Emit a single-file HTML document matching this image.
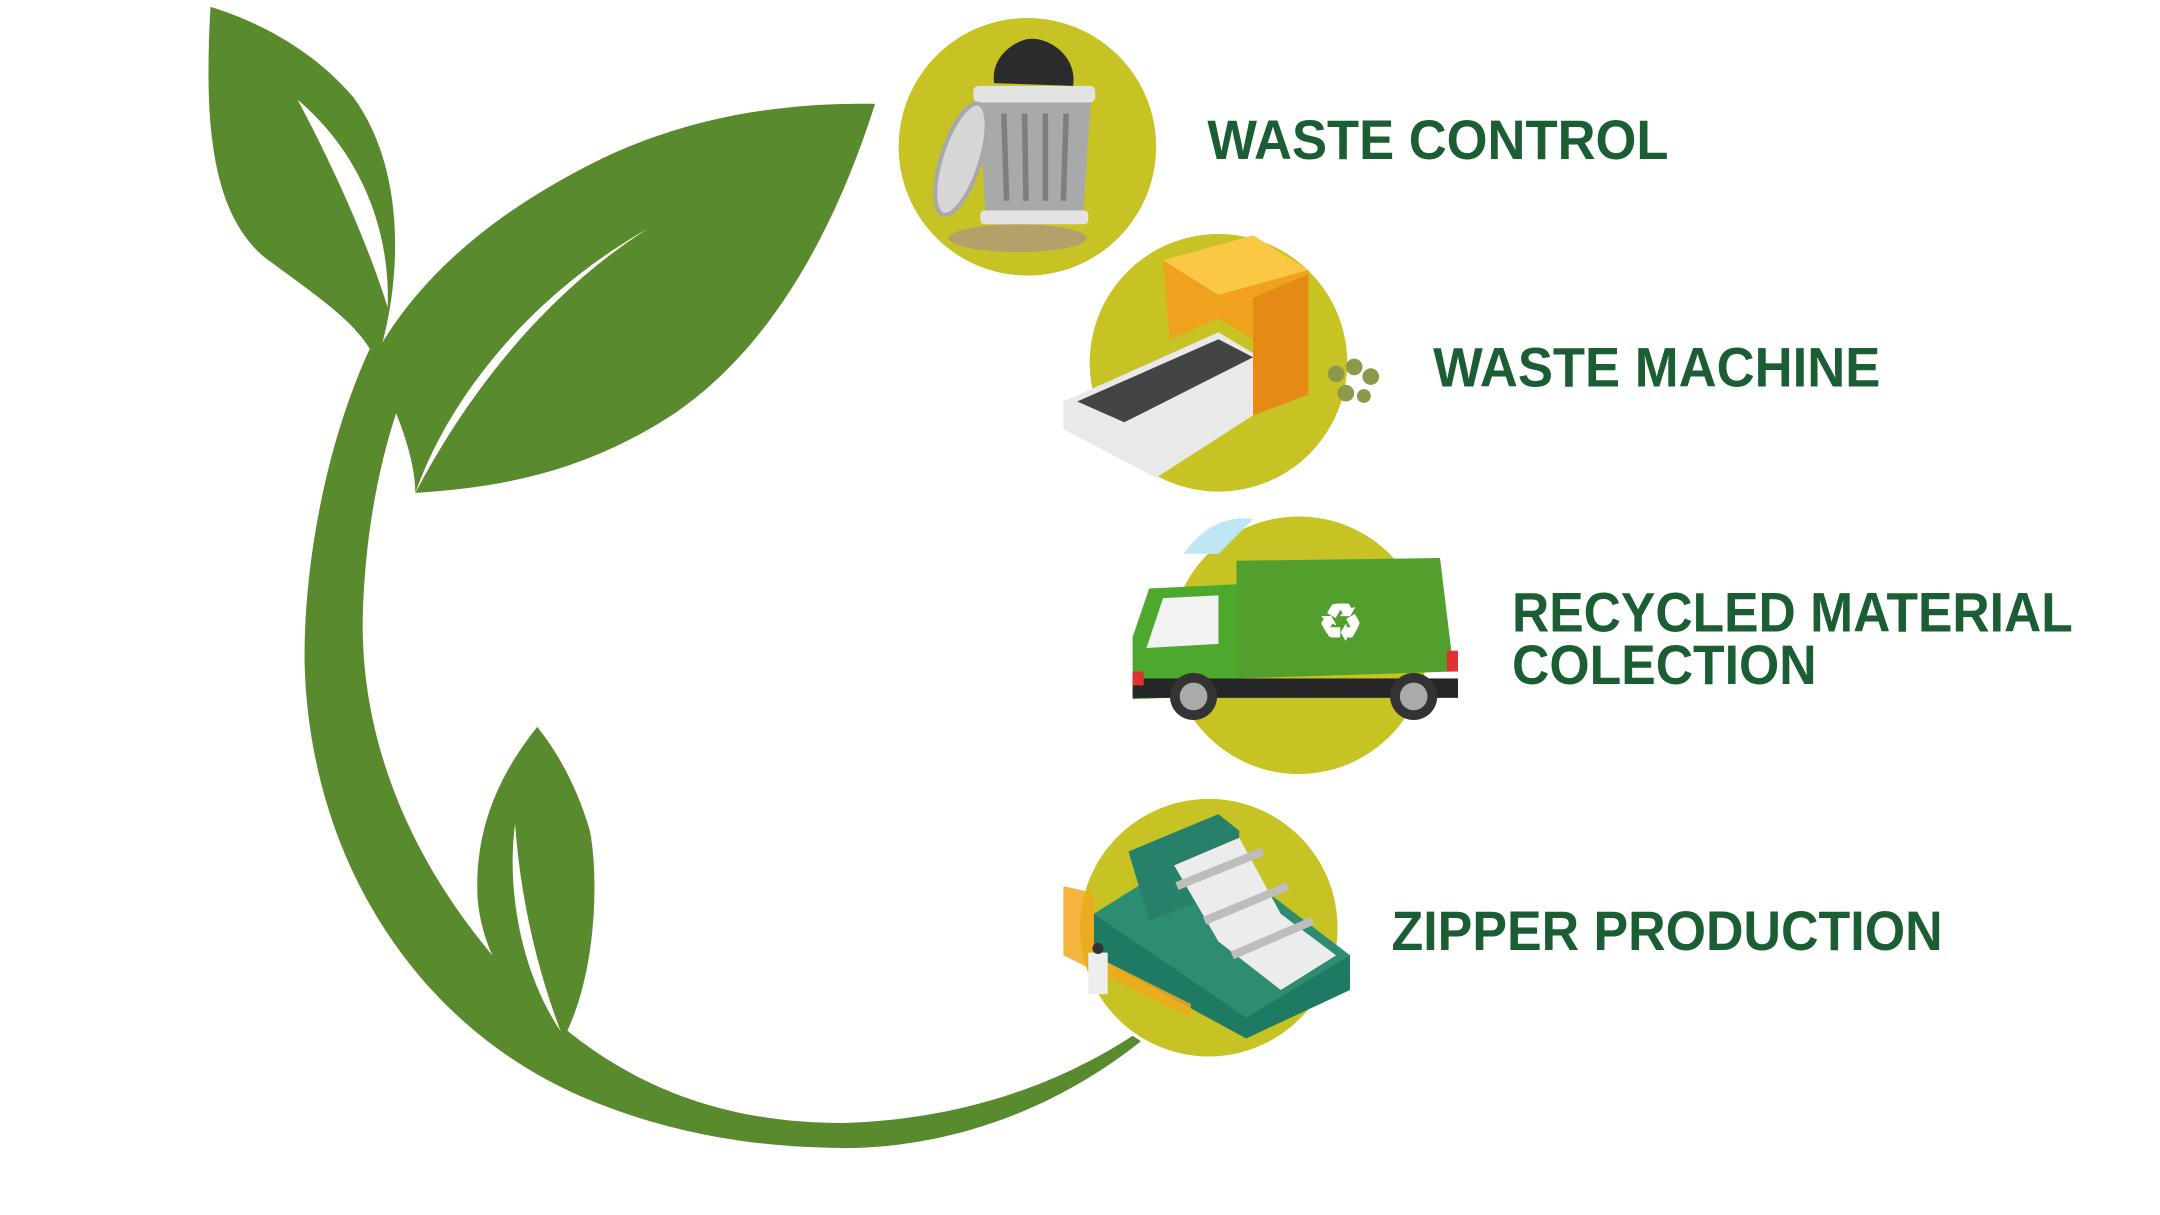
<!DOCTYPE html>
<html><head><meta charset="utf-8"><style>
html,body{margin:0;padding:0;background:#fff;width:2160px;height:1215px;overflow:hidden}
svg{display:block}
text{font-family:"Liberation Sans",sans-serif;font-weight:bold;fill:#1b5e33}
</style></head><body>
<svg width="2160" height="1215" viewBox="0 0 1560 877.5" preserveAspectRatio="none" xmlns="http://www.w3.org/2000/svg">
<!-- stem -->
<path fill="#5a8a2e" d="M268,250 C235,320 219,410 220,480 C224,620 300,740 420,792 C490,822 560,830 620,829 C700,826 770,795 824,752 L818,748 C760,786 690,808 612,811 C520,812 445,782 385,722 C305,642 260,545 262,445 C264,370 280,305 302,258 Z"/>
<!-- top-left leaf -->
<path fill="#5a8a2e" d="M152,5 C148,80 150,150 190,185 C230,215 262,235 272,262 C292,200 292,120 255,70 C225,35 185,15 152,5 Z"/>
<path fill="#fff" d="M215,72 C235,110 262,165 280,222 C282,168 262,112 215,72 Z"/>
<!-- big leaf -->
<path fill="#5a8a2e" d="M268,262 C300,200 360,150 440,112 C510,80 580,74 632,75 C605,160 560,250 485,300 C420,342 360,352 300,356 C300,330 285,290 268,262 Z"/>
<path fill="#fff" d="M300,356 C325,285 385,212 468,165 C405,205 345,270 300,356 Z"/>
<!-- small lower leaf -->
<path fill="#5a8a2e" d="M388,525 C360,560 342,600 345,650 C350,700 380,730 408,748 C432,700 432,630 426,600 C416,565 400,540 388,525 Z"/>
<path fill="#fff" d="M372,595 C366,640 375,700 405,745 C388,700 376,650 372,595 Z"/>

<!-- circles -->
<circle cx="742" cy="106" r="93" fill="#c7c324"/>
<circle cx="880" cy="262" r="93" fill="#c7c324"/>
<circle cx="938" cy="466" r="93" fill="#c7c324"/>
<circle cx="873" cy="670" r="93" fill="#c7c324"/>

<!-- trash can -->
<ellipse cx="735" cy="172" rx="50" ry="10" fill="#b5a06a"/>
<path d="M707,70 L788,70 L782,160 L712,160 Z" fill="#a9a9a9"/>
<rect x="703" y="62" width="88" height="12" rx="4" fill="#e3e3e3"/>
<rect x="708" y="152" width="78" height="10" rx="3" fill="#e3e3e3"/>
<g stroke="#7e7e7e" stroke-width="4"><line x1="725" y1="82" x2="727" y2="145"/><line x1="740" y1="82" x2="741" y2="145"/><line x1="755" y1="82" x2="755" y2="145"/><line x1="770" y1="82" x2="768" y2="145"/></g>
<path d="M718,60 C715,40 735,28 745,28 C760,28 778,42 775,62 Z" fill="#2b2b2b"/>
<ellipse cx="694" cy="115" rx="14" ry="42" transform="rotate(18 694 115)" fill="#d6d6d6" stroke="#a8a8a8" stroke-width="3"/>

<!-- waste machine -->
<path d="M768,290 L880,240 L905,255 L905,300 L835,345 L768,310 Z" fill="#e9e9e9"/>
<path d="M778,290 L880,245 L905,258 L812,305 Z" fill="#444"/>
<path d="M840,188 L905,170 L945,195 L945,285 L905,300 L905,245 L880,230 L845,245 Z" fill="#f0a21e"/>
<path d="M840,188 L905,170 L945,195 L880,213 Z" fill="#fbc846"/>
<path d="M905,215 L945,198 L945,285 L905,300 Z" fill="#e58a14"/>
<g fill="#8a9a4a"><circle cx="965" cy="270" r="6"/><circle cx="978" cy="265" r="6"/><circle cx="990" cy="272" r="6"/><circle cx="972" cy="284" r="6"/><circle cx="985" cy="286" r="5"/></g>

<!-- truck -->
<path d="M855,400 C870,378 890,372 905,375 L880,400 Z" fill="#bfe6f5"/>
<path d="M893,405 L1040,403 L1050,485 L893,490 Z" fill="#529f2d"/>
<path d="M830,425 L893,422 L893,502 L818,505 L818,460 Z" fill="#4da82e"/>
<path d="M840,432 L880,430 L880,465 L828,468 Z" fill="#f2f2f2"/>
<rect x="818" y="490" width="235" height="14" fill="#262626"/>
<rect x="818" y="485" width="8" height="10" fill="#e03030"/>
<rect x="1045" y="470" width="8" height="15" fill="#e03030"/>
<circle cx="862" cy="503" r="17" fill="#333"/><circle cx="862" cy="503" r="10" fill="#aaa"/>
<circle cx="1021" cy="503" r="17" fill="#333"/><circle cx="1021" cy="503" r="10" fill="#aaa"/>
<text x="968" y="462" font-size="36" text-anchor="middle" style="fill:#fff">♻</text>

<!-- zipper production machine -->
<path d="M790,660 L870,610 L975,690 L975,715 L900,750 L790,690 Z" fill="#1f7a63"/>
<path d="M790,660 L870,610 L975,690 L900,735 Z" fill="#2e8c72"/>
<path d="M815,615 L880,588 L895,600 L895,640 L830,665 Z" fill="#26806a"/>
<path d="M848,625 L895,605 L925,660 L965,690 L925,715 L880,680 Z" fill="#ececec"/>
<g stroke="#bdbdbd" stroke-width="6"><line x1="850" y1="640" x2="912" y2="615"/><line x1="870" y1="665" x2="930" y2="640"/><line x1="890" y1="690" x2="948" y2="665"/></g>
<path d="M768,640 L790,645 L790,690 L860,725 L860,735 L768,690 Z" fill="#f2a81e" opacity="0.85"/>
<rect x="786" y="688" width="14" height="30" fill="#eee"/>
<circle cx="793" cy="685" r="4" fill="#333"/>

<!-- labels -->
<text x="872" y="115" font-size="40" textLength="333" lengthAdjust="spacingAndGlyphs">WASTE CONTROL</text>
<text x="1035" y="279" font-size="40" textLength="323" lengthAdjust="spacingAndGlyphs">WASTE MACHINE</text>
<text x="1092" y="456" font-size="40" textLength="405" lengthAdjust="spacingAndGlyphs">RECYCLED MATERIAL</text>
<text x="1092" y="494" font-size="40" textLength="220" lengthAdjust="spacingAndGlyphs">COLECTION</text>
<text x="1005" y="686" font-size="40" textLength="398" lengthAdjust="spacingAndGlyphs">ZIPPER PRODUCTION</text>
</svg>
</body></html>
